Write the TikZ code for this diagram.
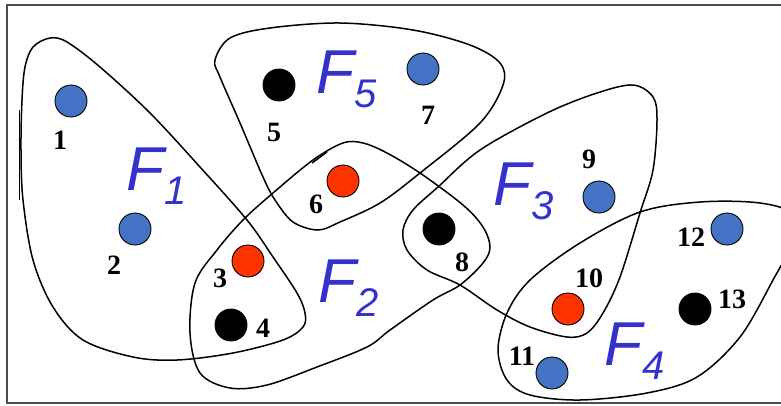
\documentclass[tikz,border=0pt]{standalone}
\usepackage{fontspec}
\setmainfont{Liberation Serif}
\newfontfamily\arialf{Liberation Sans}
\definecolor{dotblue}{HTML}{4472C4}
\definecolor{dotred}{HTML}{FF3300}
\definecolor{fblue}{HTML}{3333CC}
\newcommand{\flabel}[1]{{\arialf\itshape\fontsize{62}{62}\selectfont F\raisebox{-14pt}{\fontsize{40}{40}\selectfont #1}}}
\begin{document}
\begin{tikzpicture}[x=1pt,y=-1pt,
  dot/.style={circle,draw=black,line width=0.9pt,minimum size=32pt,inner sep=0pt},
  bdot/.style={dot,fill=dotblue},
  rdot/.style={dot,fill=dotred},
  kdot/.style={dot,fill=black},
  num/.style={font=\fontsize{28}{28}\selectfont\bfseries,inner sep=0pt,text=black},
  flab/.style={anchor=base west,inner sep=0pt,text=fblue},
  hedge/.style={draw=black,line width=1.5pt},
  frame/.style={draw=black!70,line width=1.2pt}]
\useasboundingbox (0,0) rectangle (781,405);
\clip (0,0) rectangle (781,405);
\draw[frame] (7,5) rectangle (800,403);

% hyperedges
\draw[hedge] plot[smooth cycle,tension=0.55] coordinates {
  (50,38) (33,47) (25,67) (22,100) (21,150) (23,200) (33,260) (53,307) (83,340)
  (133,357) (177,360) (233,353) (283,340) (303,327) (305,313) (297,293)
  (273,257) (247,220) (200,167) (150,113) (100,67) (67,42)};
\draw[hedge] (19.5,110) -- (19.5,200);

\draw[hedge] plot[smooth cycle,tension=0.55] coordinates {
  (230,388) (200,373) (190,333) (195,283) (217,250) (243,220) (273,193)
  (313,160) (343,143) (363,143) (387,153) (420,173) (463,205) (483,227)
  (490,247) (483,263) (460,285) (433,300) (390,330) (367,347) (317,367) (267,385)};
\draw[hedge] (312,163) -- (327,152);

\draw[hedge] plot[smooth cycle,tension=0.55] coordinates {
  (403,230) (413,210) (438,187) (480,150) (547,113) (597,93) (633,85)
  (653,97) (657,120) (653,170) (640,213) (620,277) (603,313) (587,333)
  (567,337) (530,327) (497,310) (460,285) (427,270) (407,250)};

\draw[hedge] plot[smooth cycle,tension=0.55] coordinates {
  (498,350) (507,313) (530,280) (580,243) (640,212) (700,202) (760,203)
  (792,215) (788,250) (773,280) (740,337) (697,377) (647,393) (580,400)
  (530,395) (507,380)};

\draw[hedge] plot[smooth cycle,tension=0.55] coordinates {
  (215,60) (230,38) (270,28) (340,23) (413,30) (470,45) (500,63) (503,85)
  (480,123) (420,173) (380,203) (340,222) (318,230) (293,222) (275,200)
  (263,177) (240,123) (220,77)};

% vertices
\node[bdot] (n1) at (71,101) {};
\node[bdot] (n2) at (135,229) {};
\node[rdot] (n3) at (248,261) {};
\node[kdot] (n4) at (231,325) {};
\node[kdot] (n5) at (279,85) {};
\node[rdot] (n6) at (343,181) {};
\node[bdot] (n7) at (423,69) {};
\node[kdot] (n8) at (439,229) {};
\node[bdot] (n9) at (599,197) {};
\node[rdot] (n10) at (568,309) {};
\node[bdot] (n11) at (552,373) {};
\node[bdot] (n12) at (727,229) {};
\node[kdot] (n13) at (695,309) {};

% vertex labels
\node[num] (l1) at (60,140) {1};
\node[num] (l2) at (114,265) {2};
\node[num] (l3) at (220,278) {3};
\node[num] (l4) at (263,328) {4};
\node[num] (l5) at (274,132) {5};
\node[num] (l6) at (316,204) {6};
\node[num] (l7) at (428,115) {7};
\node[num] (l8) at (462,262) {8};
\node[num] (l9) at (589,159) {9};
\node[num] (l10) at (589,278) {10};
\node[num] (l11) at (522,356) {11};
\node[num] (l12) at (691,237) {12};
\node[num] (l13) at (732,299) {13};

% hyperedge labels
\node[flab] (f1) at (126,190) {\flabel{1}};
\node[flab] (f2) at (318,302) {\flabel{2}};
\node[flab] (f3) at (493,205) {\flabel{3}};
\node[flab] (f4) at (604,365) {\flabel{4}};
\node[flab] (f5) at (316,93) {\flabel{5}};
\end{tikzpicture}
\end{document}
